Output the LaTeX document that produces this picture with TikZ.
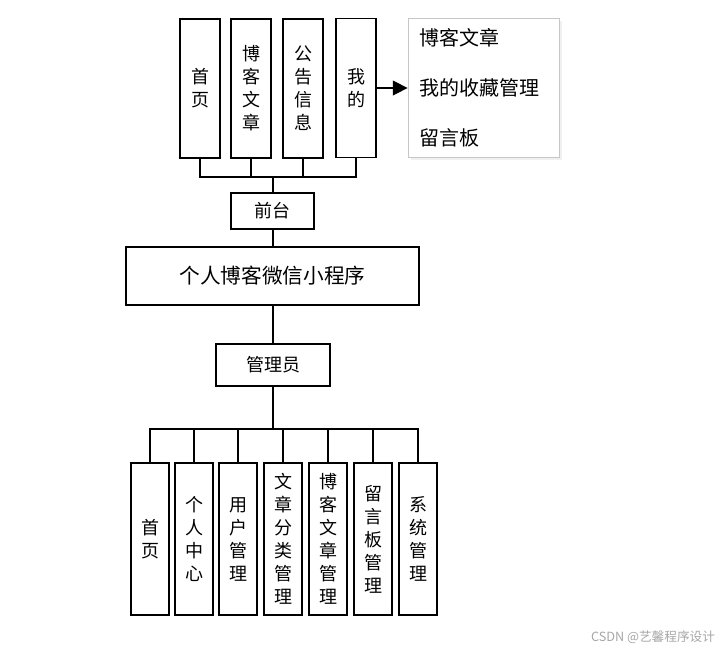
\documentclass[tikz,border=0pt]{standalone}
\usepackage{fontspec}
\setmainfont{Noto Sans CJK SC}
\usetikzlibrary{arrows.meta}
\tikzset{
  box/.style={draw, line width=1.3pt, inner sep=0pt, align=center,
    font=\fontsize{13.5pt}{17.25pt}\selectfont},
  topbox/.style={box, minimum width=30pt, minimum height=104.25pt},
  botbox/.style={box, minimum width=28.5pt, minimum height=114pt},
  conn/.style={line width=1.1pt},
  paneltxt/.style={anchor=west, inner sep=0pt, font=\fontsize{15pt}{18pt}\selectfont}
}
\begin{document}
\begin{tikzpicture}[x=0.75pt, y=-0.75pt]
\useasboundingbox (0,0) rectangle (727,651);
% top boxes
\node[topbox] (t1) at (200,88.5) {首\\页};
\node[topbox] (t2) at (251,88.5) {博\\客\\文\\章};
\node[topbox] (t3) at (303,88.5) {公\\告\\信\\息};
\node[topbox] (t4) at (356,88) {我\\的};
% panel
\fill[gray!12] (410.5,20.5) rectangle (561.5,159.5);
\node[draw=gray!45, fill=white, line width=0.6pt, minimum width=113.25pt, minimum height=104.25pt, inner sep=0pt] (panel) at (483.5,87.5) {};
\node[paneltxt] (p1) at (419,38) {博客文章};
\node[paneltxt] (p2) at (419,88) {我的收藏管理};
\node[paneltxt] (p3) at (419,138) {留言板};
\draw[conn, -{Triangle[length=11pt,width=11pt]}] (t4.east) -- (panel.west |- t4.east);
% middle
\node[box, minimum width=62pt, minimum height=27pt] (qt) at (272.5,211) {前台};
\node[box, minimum width=220pt, minimum height=43.5pt, font=\fontsize{15.5pt}{18pt}\selectfont] (main) at (272.5,276) {个人博客微信小程序};
\node[box, minimum width=85.5pt, minimum height=31.5pt] (gly) at (273,365) {管理员};
\coordinate (tj) at (273,177);
\draw[conn] (t1.south) |- (tj);
\draw[conn] (t2.south) |- (tj);
\draw[conn] (t3.south) |- (tj);
\draw[conn] (t4.south) |- (tj);
\draw[conn] (tj) -- (qt.north -| tj);
\draw[conn] (qt.south -| tj) -- (main.north -| tj);
\draw[conn] (main.south -| tj) -- (gly.north -| tj);
% bottom boxes
\node[botbox] (b1) at (150,539) {首\\页};
\node[botbox] (b2) at (194,539) {个\\人\\中\\心};
\node[botbox] (b3) at (238,539) {用\\户\\管\\理};
\node[botbox] (b4) at (283,539) {文\\章\\分\\类\\管\\理};
\node[botbox] (b5) at (328,539) {博\\客\\文\\章\\管\\理};
\node[botbox] (b6) at (373,539) {留\\言\\板\\管\\理};
\node[botbox] (b7) at (418,539) {系\\统\\管\\理};
\coordinate (bj) at (273,429);
\draw[conn] (gly.south) -- (bj);
\foreach \b in {b1,b2,b3,b4,b5,b6,b7} { \draw[conn] (bj) -| (\b.north); }
% watermark
\node[text=gray!70, font=\fontsize{9.5pt}{11pt}\selectfont, inner sep=0pt] (wm) at (653,637) {CSDN @艺馨程序设计};
\end{tikzpicture}
\end{document}
